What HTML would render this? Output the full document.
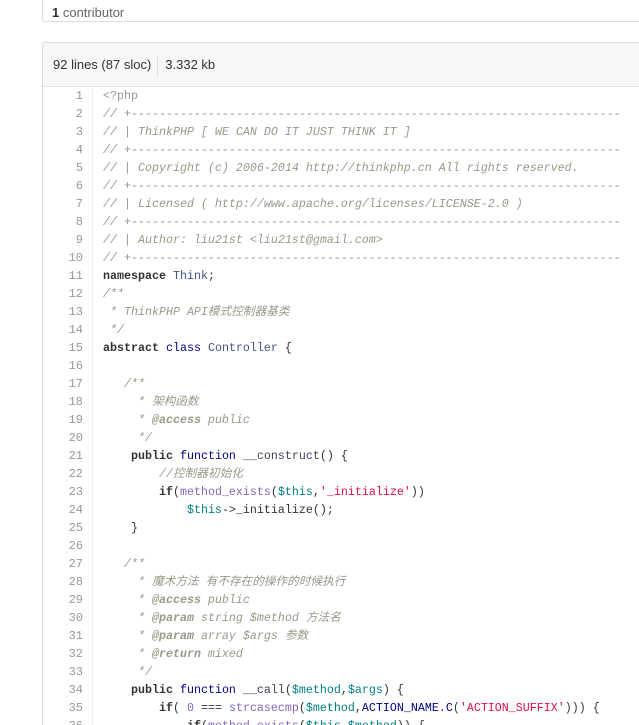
<!DOCTYPE html><html><head><meta charset="utf-8"><style>
html,body{margin:0;width:639px;height:724px;overflow:hidden;background:#fff;font-family:"Liberation Sans",sans-serif;}
.top{position:absolute;left:42px;top:-10px;width:620px;height:30px;border:1px solid #ddd;border-radius:3px;}
.top span{position:absolute;left:9px;top:14px;font-size:13px;color:#666;}
.box{position:absolute;left:42px;top:42px;width:596px;height:682px;border:1px solid #ddd;border-bottom:none;border-right:none;border-radius:3px 0 0 0;overflow:hidden;}
.hdr{height:43px;background:#f7f7f7;border-bottom:1px solid #e5e5e5;font-size:13px;color:#333;line-height:43px;padding-left:10px;}
.sep{display:inline-block;width:1px;height:20px;background:#ddd;vertical-align:middle;margin:0 7px 0 6px;}
.gut{position:absolute;left:0;top:44px;width:49px;border-right:1px solid #eee;height:640px;}
pre{margin:0;font-family:"Liberation Mono","Noto Sans CJK SC",monospace;font-size:11.66px;line-height:18px;}
.ln{position:absolute;left:0;top:44px;width:40px;text-align:right;color:#999;font-size:12px;}
.code{position:absolute;left:60px;top:44px;color:#333;}
.c{color:#998;font-style:italic}.k{font-weight:bold;color:#333}.f{color:#000080}.v{color:#008080}.s{color:#d14}.b{color:#86b}.n{color:#445588}.d{color:#445}
</style></head><body>
<div class="top"><span><b style="color:#333">1</b> contributor</span></div>
<div class="box"><div class="hdr">92 lines (87 sloc)<span class="sep"></span>3.332 kb</div>
<div class="gut"></div>
<pre class="ln">1
2
3
4
5
6
7
8
9
10
11
12
13
14
15
16
17
18
19
20
21
22
23
24
25
26
27
28
29
30
31
32
33
34
35
36</pre>
<pre class="code"><span style="color:#999">&lt;?php</span>
<span class="c">// +----------------------------------------------------------------------</span>
<span class="c">// | ThinkPHP [ WE CAN DO IT JUST THINK IT ]</span>
<span class="c">// +----------------------------------------------------------------------</span>
<span class="c">// | Copyright (c) 2006-2014 http://thinkphp.cn All rights reserved.</span>
<span class="c">// +----------------------------------------------------------------------</span>
<span class="c">// | Licensed ( http://www.apache.org/licenses/LICENSE-2.0 )</span>
<span class="c">// +----------------------------------------------------------------------</span>
<span class="c">// | Author: liu21st &lt;liu21st@gmail.com&gt;</span>
<span class="c">// +----------------------------------------------------------------------</span>
<span class="k">namespace</span> <span class="n">Think</span>;
<span class="c">/**</span>
<span class="c"> * ThinkPHP API模式控制器基类</span>
<span class="c"> */</span>
<span class="k">abstract</span> <span class="f">class</span> <span class="n">Controller</span> {

   <span class="c">/**</span>
<span class="c">     * 架构函数</span>
<span class="c">     * <b>@access</b> public</span>
<span class="c">     */</span>
    <span class="k">public</span> <span class="f">function</span> <span class="d">__construct</span>() {
        <span class="c">//控制器初始化</span>
        <span class="k">if</span>(<span class="b">method_exists</span>(<span class="v">$this</span>,<span class="s">'_initialize'</span>))
            <span class="v">$this</span>-&gt;_initialize();
    }

   <span class="c">/**</span>
<span class="c">     * 魔术方法 有不存在的操作的时候执行</span>
<span class="c">     * <b>@access</b> public</span>
<span class="c">     * <b>@param</b> string $method 方法名</span>
<span class="c">     * <b>@param</b> array $args 参数</span>
<span class="c">     * <b>@return</b> mixed</span>
<span class="c">     */</span>
    <span class="k">public</span> <span class="f">function</span> <span class="d">__call</span>(<span class="v">$method</span>,<span class="v">$args</span>) {
        <span class="k">if</span>( <span class="b">0</span> === <span class="b">strcasecmp</span>(<span class="v">$method</span>,<span class="f">ACTION_NAME</span>.<span class="f">C</span>(<span class="s">'ACTION_SUFFIX'</span>))) {
            <span class="k">if</span>(<span class="b">method_exists</span>(<span class="v">$this</span>,<span class="v">$method</span>)) {</pre>
</div>
</body></html>
